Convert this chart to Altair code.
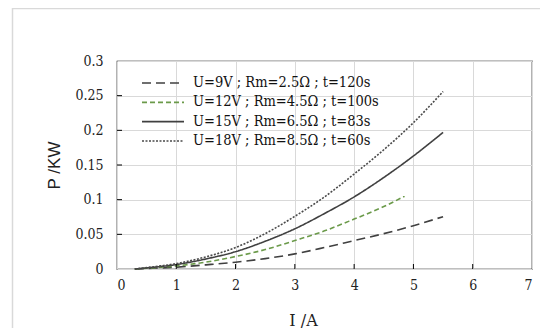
import altair as alt
import pandas as pd

# ---- data ----
series_labels = [
    "U=9V ; Rm=2.5Ω ; t=120s",
    "U=12V ; Rm=4.5Ω ; t=100s",
    "U=15V ; Rm=6.5Ω ; t=83s",
    "U=18V ; Rm=8.5Ω ; t=60s",
]
x_9v = [0.3, 0.5, 1.0, 1.5, 2.0, 2.5, 3.0, 3.5, 4.0, 4.5, 5.0, 5.5]
y_9v = [0.0, 0.0007, 0.0027, 0.006, 0.0098, 0.015, 0.0218, 0.031, 0.041, 0.051, 0.0625, 0.0755]
x_12v = [0.3, 0.5, 1.0, 1.5, 2.0, 2.5, 3.0, 3.5, 4.0, 4.5, 4.85]
y_12v = [0.0, 0.0011, 0.0045, 0.010, 0.018, 0.028, 0.041, 0.055, 0.072, 0.090, 0.105]
x_15v = [0.3, 0.5, 1.0, 1.5, 2.0, 2.5, 3.0, 3.5, 4.0, 4.5, 5.0, 5.5]
y_15v = [0.0, 0.0016, 0.0064, 0.0145, 0.025, 0.040, 0.058, 0.080, 0.104, 0.132, 0.163, 0.197]
x_18v = [0.3, 0.5, 1.0, 1.5, 2.0, 2.5, 3.0, 3.5, 4.0, 4.5, 5.0, 5.5]
y_18v = [0.0, 0.002, 0.0078, 0.0175, 0.031, 0.051, 0.076, 0.104, 0.137, 0.172, 0.211, 0.256]

x_ticks = [0, 1, 2, 3, 4, 5, 6, 7]
y_ticks = [0, 0.05, 0.1, 0.15, 0.2, 0.25, 0.3]
x_inner_ticks = [1, 2, 3, 4, 5, 6]
y_inner_ticks = [0.05, 0.1, 0.15, 0.2, 0.25]

colors = ["#404040", "#6b9a4a", "#404040", "#4a4a4a"]
dashes = [[9, 5], [5, 3], [1, 0], [2, 1.5]]

rows = []
for lab, xs, ys in zip(series_labels, [x_9v, x_12v, x_15v, x_18v], [y_9v, y_12v, y_15v, y_18v]):
    for xv, yv in zip(xs, ys):
        rows.append({"series": lab, "I": xv, "P": yv})
df = pd.DataFrame(rows)
legend_df = pd.DataFrame({"series": series_labels, "row": list(range(len(series_labels)))})

xdom = alt.Scale(domain=[0, 7], nice=False)
ydom = alt.Scale(domain=[0, 0.3], nice=False)
color_scale = alt.Scale(domain=series_labels, range=colors)
dash_scale = alt.Scale(domain=series_labels, range=dashes)

serif_c = "DejaVu Serif Condensed"
serif = "DejaVu Serif"

x_axis = alt.Axis(values=x_ticks, format="d", title="I /A", grid=True,
                  titleX=186, titleY=56, titleAlign="center", titleBaseline="alphabetic")
y_axis = alt.Axis(values=y_ticks, format="~g", title="P /KW", grid=True,
                  titleX=-63, titleY=104, titleAngle=-90, titleAlign="center",
                  titleBaseline="middle", titleFont="Liberation Sans",
                  titleFontSize=17)

lines = alt.Chart(df).mark_line(strokeWidth=1.6, interpolate="monotone").encode(
    x=alt.X("I:Q", scale=xdom, axis=x_axis),
    y=alt.Y("P:Q", scale=ydom, axis=y_axis),
    color=alt.Color("series:N", scale=color_scale, legend=None),
    strokeDash=alt.StrokeDash("series:N", scale=dash_scale, legend=None),
    detail="series:N",
)

xt = alt.Chart(pd.DataFrame({"v": x_inner_ticks})).mark_rule(color="#000000", strokeWidth=1).encode(
    x=alt.X("v:Q", scale=xdom, axis=x_axis),
    y=alt.value(208), y2=alt.value(203),
)
yt = alt.Chart(pd.DataFrame({"v": y_inner_ticks})).mark_rule(color="#000000", strokeWidth=1).encode(
    y=alt.Y("v:Q", scale=ydom, axis=y_axis),
    x=alt.value(0), x2=alt.value(5),
)

row_scale = alt.Scale(domain=[0, 3], range=[22, 80])
leg_rules = alt.Chart(legend_df).mark_rule(strokeWidth=1.6).encode(
    x=alt.value(25), x2=alt.value(67),
    y=alt.Y("row:Q", scale=row_scale, axis=None),
    color=alt.Color("series:N", scale=color_scale, legend=None),
    strokeDash=alt.StrokeDash("series:N", scale=dash_scale, legend=None),
)
leg_text = alt.Chart(legend_df).mark_text(align="left", baseline="middle", font=serif_c,
                                          fontSize=14.5, color="#111111").encode(
    x=alt.value(76),
    y=alt.Y("row:Q", scale=row_scale, axis=None),
    text="series:N",
)

border = alt.Chart(pd.DataFrame({"a": [0]})).mark_rect(fillOpacity=0, stroke="#d9d9d9", strokeWidth=1.5).encode(
    x=alt.value(-104.5), x2=alt.value(460), y=alt.value(-52.5), y2=alt.value(330),
)

main = alt.layer(lines, xt, yt)
chart = alt.layer(border, main, leg_rules, leg_text).resolve_scale(y="independent").properties(
    width=415, height=208,
    autosize=alt.AutoSizeParams(type="none"),
    padding={"left": 109, "top": 53, "right": 8, "bottom": 59},
).configure_view(stroke="#000000", strokeWidth=1.2).configure_axis(
    domain=False, ticks=False, gridColor="#d9d9d9", gridWidth=1,
    labelFont=serif_c, labelFontSize=14, labelColor="#222222",
    titleFont=serif, titleFontSize=16, titleColor="#222222", titleFontWeight="normal",
).configure_axisY(labelPadding=14).configure_axisX(labelPadding=9)

chart.save("out.html", embed_options={"renderer": "svg", "actions": False})
